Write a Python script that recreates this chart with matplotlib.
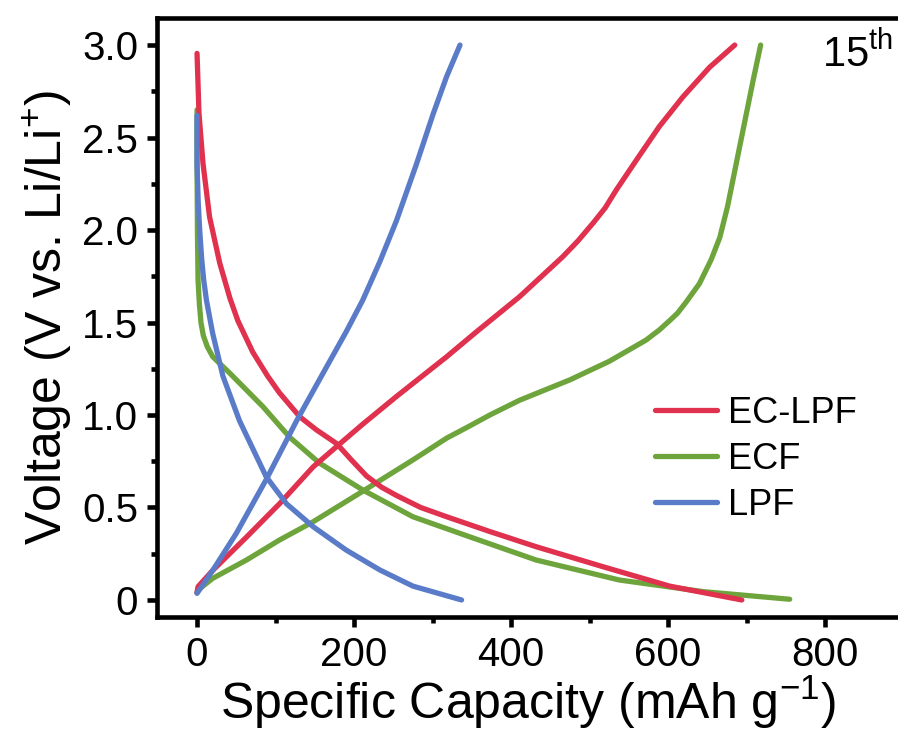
import matplotlib
matplotlib.use('Agg')

import matplotlib.pyplot as plt
from matplotlib.ticker import MultipleLocator

plt.rcParams['font.family'] = ['Liberation Sans', 'DejaVu Sans']
plt.rcParams['mathtext.fontset'] = 'custom'
plt.rcParams['mathtext.rm'] = 'Liberation Sans'
plt.rcParams['mathtext.it'] = 'Liberation Sans:italic'

# EC-LPF, 15th cycle
eclpf_dis_x = [0, 2.5, 7.6, 16, 29, 42, 52, 71, 90, 105, 131, 152, 178, 196, 216, 235, 254, 285, 318, 373, 432, 517, 602, 694]
eclpf_dis_v = [2.955, 2.63, 2.36, 2.07, 1.82, 1.63, 1.51, 1.34, 1.21, 1.12, 0.99, 0.92, 0.845, 0.76, 0.67, 0.61, 0.565, 0.50, 0.45, 0.37, 0.288, 0.18, 0.075, 0.0]
eclpf_chg_x = [0, 1.3, 20, 63, 105, 148, 178, 211, 254, 318, 356, 411, 466, 485, 505, 520, 534, 560, 589, 619, 653, 685]
eclpf_chg_v = [0.04, 0.072, 0.16, 0.34, 0.52, 0.72, 0.83, 0.95, 1.10, 1.315, 1.45, 1.64, 1.856, 1.94, 2.04, 2.12, 2.216, 2.38, 2.56, 2.72, 2.88, 3.0]

# ECF
ecf_dis_x = [0, 0, 0.5, 1.3, 3, 5, 8, 13, 20, 42, 84, 118, 156, 211, 275, 347, 432, 538, 645, 755]
ecf_dis_v = [2.65, 2.36, 2.0, 1.73, 1.6, 1.5, 1.43, 1.37, 1.315, 1.225, 1.045, 0.88, 0.74, 0.595, 0.45, 0.342, 0.216, 0.108, 0.045, 0.004]
ecf_chg_x = [0, 1.3, 20, 63, 105, 148, 207, 275, 318, 347, 373, 411, 475, 525, 572, 589, 602, 612, 623, 640, 655, 666, 676, 686, 697, 708, 718]
ecf_chg_v = [0.04, 0.054, 0.117, 0.216, 0.324, 0.423, 0.577, 0.757, 0.875, 0.94, 1.0, 1.08, 1.19, 1.29, 1.405, 1.46, 1.51, 1.55, 1.61, 1.71, 1.84, 1.96, 2.13, 2.34, 2.57, 2.8, 3.0]

# LPF
lpf_dis_x = [0, 0, 1.5, 3.4, 6, 8.5, 12, 20, 33, 54, 88, 114, 148, 190, 233, 275, 337]
lpf_dis_v = [2.62, 2.36, 2.15, 2.0, 1.84, 1.73, 1.62, 1.44, 1.21, 0.97, 0.667, 0.52, 0.396, 0.27, 0.162, 0.075, 0.0]
lpf_chg_x = [0, 20, 50, 88, 127, 165, 190, 211, 233, 254, 279, 301, 318, 335]
lpf_chg_v = [0.036, 0.16, 0.36, 0.65, 0.97, 1.26, 1.45, 1.62, 1.83, 2.05, 2.35, 2.63, 2.83, 3.0]

red = '#E0314F'
green = '#6EA43C'
blue = '#5A7CC8'
lw = 3.8

fig = plt.figure(figsize=(8.98, 7.34), dpi=100)
ax = fig.add_axes([157 / 898, 117 / 734, 741 / 898, 599.5 / 734])

kw = dict(lw=lw, solid_capstyle='round', solid_joinstyle='round')
ax.plot(ecf_dis_x, ecf_dis_v, color=green, **kw)
ax.plot(ecf_chg_x, ecf_chg_v, color=green, **kw)
ax.plot(eclpf_dis_x, eclpf_dis_v, color=red, **kw)
ax.plot(eclpf_chg_x, eclpf_chg_v, color=red, **kw)
ax.plot(lpf_dis_x, lpf_dis_v, color=blue, **kw)
ax.plot(lpf_chg_x, lpf_chg_v, color=blue, **kw)

h1, = ax.plot([], [], color=red, **kw)
h2, = ax.plot([], [], color=green, **kw)
h3, = ax.plot([], [], color=blue, **kw)
ax.legend([h1, h2, h3], ['EC-LPF', 'ECF', 'LPF'], loc='upper left',
          bbox_to_anchor=(655 / 898, (734 - 396) / 734), bbox_transform=fig.transFigure,
          frameon=False, fontsize=26, handlelength=1.72, handletextpad=0.3,
          labelspacing=0.30, borderpad=0, borderaxespad=0)

ax.set_xlim(-51, 893)
ax.set_ylim(-0.092, 3.149)
ax.xaxis.set_major_locator(MultipleLocator(200))
ax.xaxis.set_minor_locator(MultipleLocator(100))
ax.yaxis.set_minor_locator(MultipleLocator(0.25))
ax.set_yticks([0, 0.5, 1.0, 1.5, 2.0, 2.5, 3.0])
ax.set_yticklabels(['0', '0.5', '1.0', '1.5', '2.0', '2.5', '3.0'])

ax.spines['right'].set_visible(False)
for s in ['left', 'top', 'bottom']:
    ax.spines[s].set_linewidth(3.3)
ax.tick_params(which='major', direction='out', length=7.5, width=3.3, labelsize=29, pad=6)
ax.tick_params(which='minor', direction='out', length=4, width=3.3)
ax.tick_params(top=False, right=False)

ax.set_xlabel('Specific Capacity (mAh g$^{-1}$)', fontsize=36, labelpad=0)
ax.set_ylabel('Voltage (V vs. Li/Li$^{+}$)', fontsize=36, labelpad=6)

ax.text(893 / 898, (734 - 67) / 734, '15$^{\\mathrm{th}}$', transform=fig.transFigure,
        ha='right', va='baseline', fontsize=30)

fig.savefig('out.png', dpi=100)
